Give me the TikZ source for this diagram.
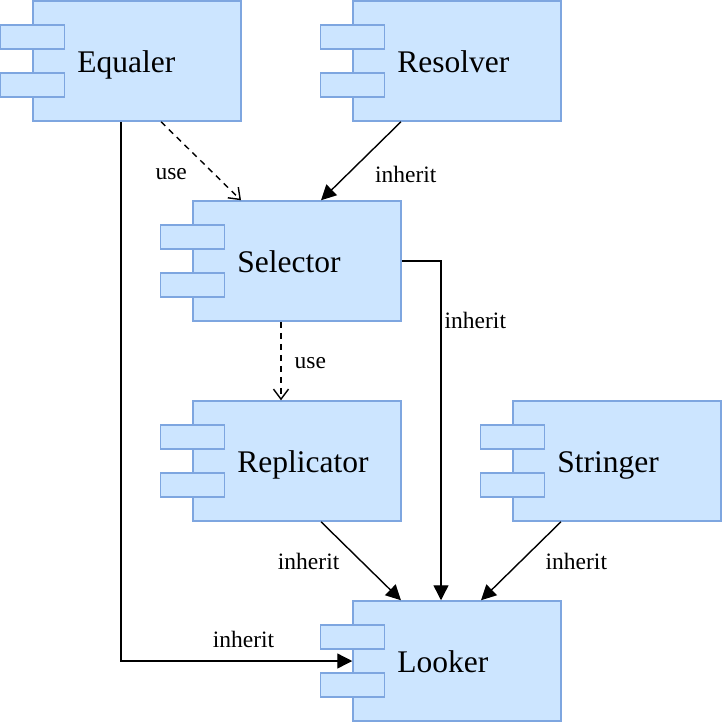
\documentclass[tikz,border=0pt]{standalone}
\usepackage{fontspec}
\setmainfont{Liberation Serif}
\usepackage{xcolor}
\usetikzlibrary{arrows.meta,positioning}

\definecolor{compfill}{HTML}{CCE5FF}
\definecolor{compline}{HTML}{7EA6E0}

\begin{document}
\begin{tikzpicture}[
  x=1pt, y=-1pt,
  box/.style={draw=compline, fill=compfill, line width=1.5pt, minimum width=208pt, minimum height=120pt, inner sep=0pt},
  tab/.style={draw=compline, fill=compfill, line width=1.5pt, minimum width=64pt, minimum height=24pt, inner sep=0pt},
  title/.style={anchor=base west, inner sep=0pt, font=\fontsize{31.5}{36}\selectfont},
  lbl/.style={inner sep=0pt, font=\fontsize{23.5}{27}\selectfont},
  inherits/.style={line width=1.4pt, -{Triangle[length=15pt,width=15pt]}},
  uses/.style={line width=1.4pt, dash pattern=on 6pt off 5pt, -{Straight Barb[length=10pt,width=15pt]}}
]
  \useasboundingbox (0,0) rectangle (724,724);

  % components
  \node[box] (equaler) at (137,61) {};
  \node[box] (resolver) at (457,61) {};
  \node[box] (selector) at (297,261) {};
  \node[box] (replicator) at (297,461) {};
  \node[box] (stringer) at (617,461) {};
  \node[box] (looker) at (457,661) {};
  \foreach \n/\t in {equaler/Equaler, resolver/Resolver, selector/Selector,
                     replicator/Replicator, stringer/Stringer, looker/Looker} {
    \node[tab] (\n-tab1) at ([yshift=24pt]\n.west) {};
    \node[tab] (\n-tab2) at ([yshift=-24pt]\n.west) {};
    \node[title] (\n-title) at ([xshift=45pt,yshift=-11.5pt]\n.west) {\t};
  }

  % relations
  \draw[uses] ([xshift=24pt]equaler.south) -- node[lbl, pos=0.62, left=23pt, yshift=-4pt] {use} ([xshift=-56pt]selector.north);
  \draw[inherits] ([xshift=-56pt]resolver.south) -- node[lbl, pos=0.62, right=23pt, yshift=-4pt] {inherit} ([xshift=24pt]selector.north);
  \draw[uses] ([xshift=-16pt]selector.south) -- node[lbl, right=13pt, yshift=-2pt] {use} ([xshift=-16pt]replicator.north);
  \draw[inherits] (selector.east) -| node[lbl, pos=0.588, right=3pt] {inherit} ([xshift=-16pt]looker.north);
  \draw[inherits] ([xshift=-16pt]equaler.south) |- node[lbl, pos=0.765, above=13pt] {inherit} (looker.west);
  \draw[inherits] ([xshift=24pt]replicator.south) -- node[lbl, left=21pt] {inherit} ([xshift=-56pt]looker.north);
  \draw[inherits] ([xshift=-56pt]stringer.south) -- node[lbl, right=24pt] {inherit} ([xshift=24pt]looker.north);
\end{tikzpicture}
\end{document}
